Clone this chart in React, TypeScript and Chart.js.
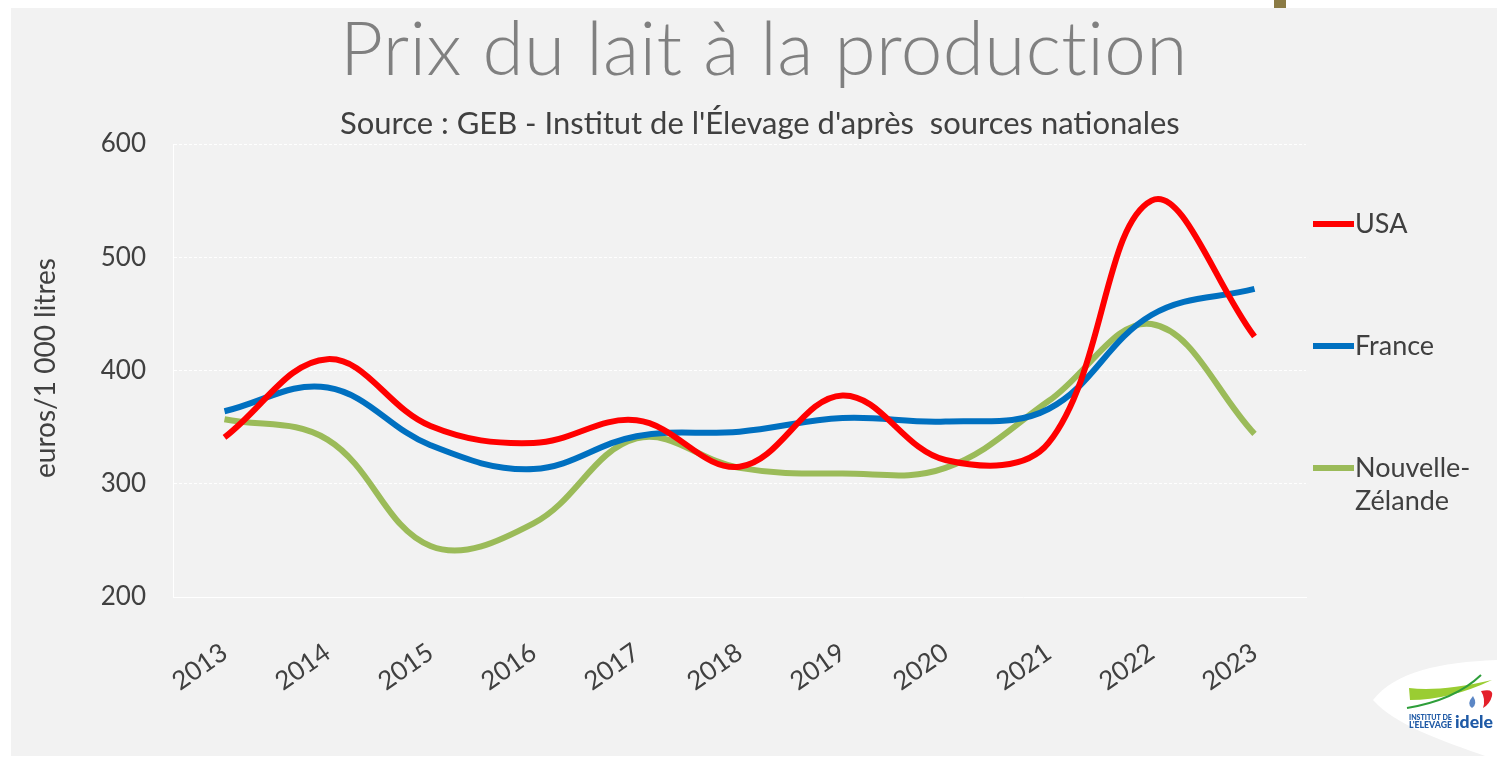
import React, { useEffect, useRef } from 'react';
import { Chart, registerables } from 'chart.js';

Chart.register(...registerables);

// ---------- data ----------
const years = ['2013', '2014', '2015', '2016', '2017', '2018', '2019', '2020', '2021', '2022', '2023'];
const seriesNames = ['USA', 'France', 'Nouvelle-Zélande'];
const usaValues = [341, 410, 351, 336, 356, 315, 378, 321, 336, 550, 430];
const franceValues = [364, 385, 334, 313, 342, 346, 358, 355, 366, 449, 472];
const nzValues = [357, 339, 245, 265, 340, 314, 309, 314, 373, 441, 344];
const seriesColors = ['#ff0000', '#0070c0', '#9bbb59'];
const yMin = 200;
const yMax = 600;
const yStep = 100;
const titleText = 'Prix du lait à la production';
const subtitleText = "Source : GEB - Institut de l'Élevage d'après  sources nationales";
const yAxisTitle = 'euros/1 000 litres';

const W = 1497;
const H = 757;
const FONT = 'Lato, "Open Sans", sans-serif';
const TEXT_DARK = '#404040';

function fitFont(ctx: CanvasRenderingContext2D, text: string, weight: string, target: number) {
  ctx.font = `${weight} 100px ${FONT}`;
  const w = ctx.measureText(text).width;
  const size = (100 * target) / w;
  ctx.font = `${weight} ${size}px ${FONT}`;
  return size;
}

const decorPlugin = {
  id: 'decor',
  beforeDraw(chart: any) {
    const ctx = chart.ctx as CanvasRenderingContext2D;
    ctx.save();
    ctx.fillStyle = '#ffffff';
    ctx.fillRect(0, 0, W, H);
    ctx.fillStyle = '#f2f2f2';
    ctx.fillRect(11, 8, W - 11, H - 9);
    ctx.fillStyle = '#8b7b45';
    ctx.fillRect(1274, 0, 12, 8);
    ctx.restore();
  },
  afterDraw(chart: any) {
    const ctx = chart.ctx as CanvasRenderingContext2D;
    ctx.save();
    // title
    ctx.fillStyle = '#808080';
    ctx.textAlign = 'left';
    ctx.textBaseline = 'alphabetic';
    try {
      (ctx as any).letterSpacing = '0.4px';
    } catch (e) {
      /* ignore */
    }
    fitFont(ctx, titleText, '300', 845);
    ctx.fillText(titleText, 340, 75);
    try {
      (ctx as any).letterSpacing = '0px';
    } catch (e) {
      /* ignore */
    }
    // subtitle
    ctx.fillStyle = TEXT_DARK;
    fitFont(ctx, subtitleText, '400', 840);
    ctx.fillText(subtitleText, 340, 134);
    // y-axis title
    ctx.save();
    ctx.translate(46, 368);
    ctx.rotate(-Math.PI / 2);
    ctx.textAlign = 'center';
    ctx.textBaseline = 'middle';
    fitFont(ctx, yAxisTitle, '400', 220);
    ctx.fillText(yAxisTitle, 0, 0);
    ctx.restore();

    // legend
    chart.data.datasets.forEach((ds: any, i: number) => {
      const y = 224 + i * 122;
      ctx.strokeStyle = ds.borderColor;
      ctx.lineWidth = 6;
      ctx.lineCap = 'butt';
      ctx.beginPath();
      ctx.moveTo(1313, y);
      ctx.lineTo(1354, y);
      ctx.stroke();
      ctx.fillStyle = TEXT_DARK;
      ctx.font = `400 27px ${FONT}`;
      ctx.textAlign = 'left';
      ctx.textBaseline = 'middle';
      const lines = String(ds.label).split(/(?<=-)/);
      lines.forEach((ln: string, j: number) => ctx.fillText(ln, 1355, y + j * 33));
    });

    // logo
    ctx.fillStyle = '#ffffff';
    ctx.beginPath();
    ctx.moveTo(1373, 700);
    ctx.bezierCurveTo(1395, 672, 1440, 662, 1497, 660);
    ctx.lineTo(1497, 757);
    ctx.lineTo(1488, 757);
    ctx.bezierCurveTo(1440, 740, 1395, 725, 1373, 700);
    ctx.closePath();
    ctx.fill();
    // green swoosh
    ctx.fillStyle = '#9acd32';
    ctx.beginPath();
    ctx.moveTo(1409, 688);
    ctx.quadraticCurveTo(1440, 692, 1492, 680);
    ctx.quadraticCurveTo(1450, 700, 1410, 700);
    ctx.closePath();
    ctx.fill();
    ctx.strokeStyle = '#2e9e3a';
    ctx.lineWidth = 2;
    ctx.beginPath();
    ctx.moveTo(1407, 708);
    ctx.quadraticCurveTo(1455, 700, 1481, 675);
    ctx.stroke();
    // red flame
    ctx.fillStyle = '#e4202a';
    ctx.beginPath();
    ctx.moveTo(1481, 691);
    ctx.quadraticCurveTo(1494, 688, 1492, 696);
    ctx.quadraticCurveTo(1490, 704, 1483, 708);
    ctx.quadraticCurveTo(1486, 699, 1481, 691);
    ctx.fill();
    // blue drop
    ctx.fillStyle = '#5b86c5';
    ctx.beginPath();
    ctx.moveTo(1473, 696);
    ctx.quadraticCurveTo(1478, 704, 1472, 708);
    ctx.quadraticCurveTo(1466, 704, 1473, 696);
    ctx.fill();
    // text
    ctx.fillStyle = '#1f5aa6';
    ctx.textAlign = 'left';
    ctx.textBaseline = 'alphabetic';
    fitFont(ctx, 'INSTITUT DE', '900', 43);
    ctx.fillText('INSTITUT DE', 1409, 720);
    fitFont(ctx, "L'ELEVAGE", '900', 43);
    ctx.fillText("L'ELEVAGE", 1409, 728);
    fitFont(ctx, 'idele', '900', 38);
    ctx.fillText('idele', 1455, 728);
    ctx.restore();
  },
};

export default function App() {
  const canvasRef = useRef<HTMLCanvasElement | null>(null);

  useEffect(() => {
    document.body.style.margin = '0';
    const canvas = canvasRef.current;
    if (!canvas) return;
    const valuesList = [usaValues, franceValues, nzValues];
    const chart = new Chart(canvas, {
      type: 'line',
      data: {
        labels: years,
        datasets: seriesNames.map((name, i) => ({
          label: name,
          data: valuesList[i],
          borderColor: seriesColors[i],
          backgroundColor: seriesColors[i],
          borderWidth: 6,
          pointRadius: 0,
          pointHoverRadius: 0,
          tension: 0.38,
          fill: false,
          borderCapStyle: 'butt' as const,
        })),
      },
      options: {
        responsive: false,
        animation: false,
        devicePixelRatio: 1,
        layout: { padding: { top: 144, right: 191, left: 0, bottom: 0 } },
        plugins: {
          legend: { display: false },
          title: { display: false },
          tooltip: { enabled: false },
        },
        scales: {
          x: {
            offset: true,
            grid: { display: false, drawTicks: false },
            border: { display: true, color: '#ffffff', width: 1 },
            ticks: {
              color: TEXT_DARK,
              font: { family: FONT, size: 26 },
              minRotation: 35,
              maxRotation: 35,
              padding: 40,
              autoSkip: false,
            },
            afterFit: (scale: any) => {
              scale.height = H - 597;
            },
          },
          y: {
            min: yMin,
            max: yMax,
            grid: { color: '#ffffff', lineWidth: 1, drawTicks: false },
            border: { display: true, color: '#ffffff', width: 1, dash: [3, 2] },
            ticks: {
              stepSize: yStep,
              color: TEXT_DARK,
              font: { family: FONT, size: 26 },
              padding: 27,
            },
            afterFit: (scale: any) => {
              scale.width = 173;
            },
          },
        },
      },
      plugins: [decorPlugin],
    });
    return () => chart.destroy();
  }, []);

  return (
    <div style={{ width: W, height: H }}>
      <canvas ref={canvasRef} width={W} height={H} style={{ display: 'block', width: W, height: H }} />
    </div>
  );
}
